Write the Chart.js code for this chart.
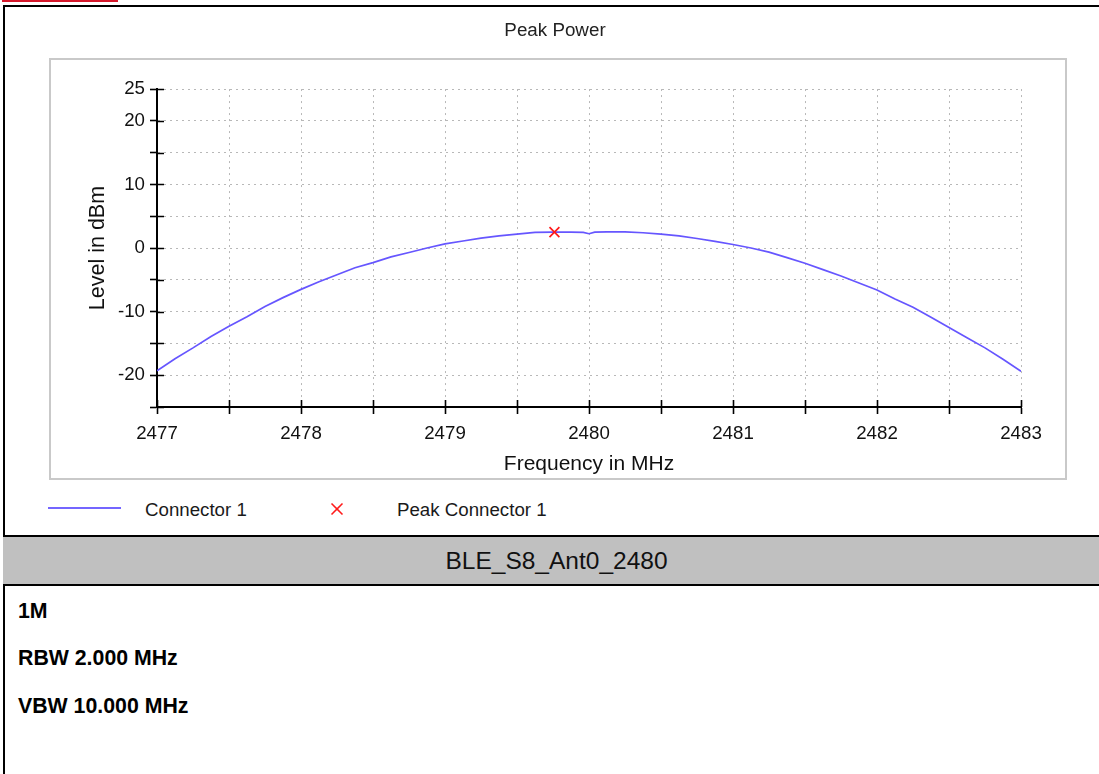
<!DOCTYPE html>
<html>
<head>
<meta charset="utf-8">
<script src="https://cdn.jsdelivr.net/npm/chart.js@4.4.1/dist/chart.umd.min.js"></script>
<style>
  html, body { margin: 0; padding: 0; background: #fff; }
  body { width: 1099px; height: 774px; position: relative; overflow: hidden; font-family: "Liberation Sans", Arial, sans-serif; }
  .abs { position: absolute; }
  #redbar { left: 2px; top: 0; width: 116px; height: 2px; background: #d6182b; }
  #frame { left: 3px; top: 5px; width: 1200px; height: 900px; border-left: 2px solid #000; border-top: 2px solid #000; }
  #panel { left: 49px; top: 58px; width: 1014px; height: 418px; border: 2px solid #c9c9c9; background: #fff; }
  #chartwrap { left: 0; top: 0; width: 1099px; height: 480px; }
  #band { left: 3px; top: 535px; width: 1200px; height: 47px; background: #c0c0c0; border-top: 2px solid #000; border-bottom: 2px solid #000; }
  #bandtext { left: 3px; width: 1107px; top: 549px; font-size: 24.5px; line-height: 24.5px; text-align: center; color: #111; }
  .info { left: 18px; font-size: 21.3px; line-height: 21.3px; font-weight: bold; color: #000; }
  .legtext { font-size: 18.7px; line-height: 18.7px; color: #1a1a1a; top: 501px; }
  #legline { left: 48px; top: 507px; width: 73px; height: 2px; background: #7466ff; }
</style>
</head>
<body>
<div id="redbar" class="abs"></div>
<div id="frame" class="abs"></div>
<div id="panel" class="abs"></div>
<div id="chartwrap" class="abs"><canvas id="c" width="1099" height="480"></canvas></div>

<div id="legline" class="abs"></div>
<div class="abs legtext" style="left:145px;">Connector 1</div>
<svg class="abs" style="left:330px;top:502px;" width="14" height="14" viewBox="0 0 14 14">
  <line x1="1.5" y1="1.5" x2="12.5" y2="12.5" stroke="#ff1a1a" stroke-width="1.6"/>
  <line x1="12.5" y1="1.5" x2="1.5" y2="12.5" stroke="#ff1a1a" stroke-width="1.6"/>
</svg>
<div class="abs legtext" style="left:397px;">Peak Connector 1</div>

<div id="band" class="abs"></div>
<div id="bandtext" class="abs">BLE_S8_Ant0_2480</div>

<div class="abs info" style="top:601px;">1M</div>
<div class="abs info" style="top:648px;">RBW 2.000 MHz</div>
<div class="abs info" style="top:696px;">VBW 10.000 MHz</div>

<script>
// ---- data ----
const freqMHz = [
  2477.000, 2477.125, 2477.250, 2477.375, 2477.500, 2477.625, 2477.750, 2477.875,
  2478.000, 2478.125, 2478.250, 2478.375, 2478.500, 2478.625, 2478.750, 2478.875,
  2479.000, 2479.125, 2479.250, 2479.375, 2479.500, 2479.625, 2479.750, 2479.875,
  2479.960, 2480.000, 2480.040, 2480.125, 2480.250, 2480.375, 2480.500, 2480.625,
  2480.750, 2480.875, 2481.000, 2481.125, 2481.250, 2481.375, 2481.500, 2481.625,
  2481.750, 2481.875, 2482.000, 2482.125, 2482.250, 2482.375, 2482.500, 2482.625,
  2482.750, 2482.875, 2483.000
];
const levelDbm = [
  -19.3, -17.4, -15.7, -13.9, -12.3, -10.8, -9.2, -7.8,
  -6.5, -5.3, -4.2, -3.1, -2.3, -1.4, -0.7, 0.0,
  0.65, 1.1, 1.55, 1.9, 2.2, 2.45, 2.5, 2.5,
  2.45, 2.25, 2.5, 2.55, 2.55, 2.4, 2.2, 1.9,
  1.5, 1.05, 0.55, 0.0, -0.65, -1.5, -2.4, -3.4,
  -4.4, -5.5, -6.6, -8.0, -9.3, -10.9, -12.5, -14.1,
  -15.7, -17.5, -19.4
];
const peakFreq = [2479.76];
const peakLevel = [2.5];
const xTickLabels = [2477, 2478, 2479, 2480, 2481, 2482, 2483];
const yTickLabels = [25, 20, 10, 0, -10, -20];

const chartTitle = 'Peak Power';
const xTitle = 'Frequency in MHz';
const yTitle = 'Level in dBm';
const seriesNames = ['Connector 1', 'Peak Connector 1'];

// ---- chart ----
const FONT = '"Liberation Sans", Arial, sans-serif';

const crossTicks = {
  id: 'crossTicks',
  afterDraw(chart) {
    const ctx = chart.ctx;
    const xs = chart.scales.x, ys = chart.scales.y;
    ctx.save();
    ctx.strokeStyle = '#000';
    ctx.lineWidth = 1.6;
    ctx.beginPath();
    xs.ticks.forEach(t => {
      const px = Math.round(xs.getPixelForValue(t.value)) + 0.5;
      ctx.moveTo(px, ys.bottom);
      ctx.lineTo(px, ys.bottom - 7);
    });
    ys.ticks.forEach(t => {
      const py = Math.round(ys.getPixelForValue(t.value)) + 0.5;
      ctx.moveTo(xs.left, py);
      ctx.lineTo(xs.left + 7, py);
    });
    ctx.stroke();
    ctx.restore();
  }
};

new Chart(document.getElementById('c'), {
  type: 'line',
  data: {
    datasets: [
      {
        label: seriesNames[0],
        data: freqMHz.map((f, i) => ({ x: f, y: levelDbm[i] })),
        borderColor: '#6656ff',
        borderWidth: 1.7,
        pointRadius: 0,
        tension: 0,
        fill: false,
        order: 2
      },
      {
        type: 'scatter',
        label: seriesNames[1],
        data: peakFreq.map((f, i) => ({ x: f, y: peakLevel[i] })),
        pointStyle: 'crossRot',
        pointRadius: 7,
        borderColor: '#ff1a1a',
        backgroundColor: '#ff1a1a',
        pointBorderWidth: 1.7,
        order: 1
      }
    ]
  },
  options: {
    responsive: false,
    animation: false,
    devicePixelRatio: 1,
    layout: { autoPadding: false, padding: { left: 89, right: 78, top: 0, bottom: 2.7 } },
    plugins: {
      legend: { display: false },
      tooltip: { enabled: false },
      title: {
        display: true,
        text: chartTitle,
        color: '#222',
        font: { family: FONT, size: 18.8, weight: 'normal', lineHeight: 1.2 },
        padding: { top: 20, bottom: 46.5 }
      }
    },
    scales: {
      x: {
        type: 'linear',
        min: 2477, max: 2483,
        afterFit(s) { s.height = 70.3; s.paddingLeft = 0; s.paddingRight = 0; },
        ticks: {
          stepSize: 0.5,
          autoSkip: false,
          maxRotation: 0,
          padding: 8.2,
          color: '#111',
          font: { family: FONT, size: 18.7 },
          callback: v => xTickLabels.includes(v) ? String(v) : ''
        },
        grid: {
          color: '#b8b8b8',
          lineWidth: 1,
          drawTicks: true,
          tickLength: 7,
          tickColor: '#000',
          tickWidth: 1.6,
          tickBorderDash: []
        },
        border: { display: true, color: '#000', width: 2, dash: [2, 4] },
        title: {
          display: true,
          text: xTitle,
          color: '#111',
          font: { family: FONT, size: 21, lineHeight: 1.2 },
          padding: { top: 0, bottom: 0 }
        }
      },
      y: {
        type: 'linear',
        min: -25, max: 25,
        afterFit(s) { s.width = 68; s.paddingTop = 0; s.paddingBottom = 0; },
        ticks: {
          stepSize: 5,
          autoSkip: false,
          padding: 5,
          color: '#111',
          font: { family: FONT, size: 18.7 },
          callback: v => yTickLabels.includes(v) ? String(v) : ''
        },
        grid: {
          color: '#b8b8b8',
          lineWidth: 1,
          drawTicks: true,
          tickLength: 7,
          tickColor: '#000',
          tickWidth: 1.6,
          tickBorderDash: []
        },
        border: { display: true, color: '#000', width: 2, dash: [2, 4] },
        title: {
          display: true,
          text: yTitle,
          color: '#111',
          font: { family: FONT, size: 21.5, lineHeight: 0.84 },
          padding: { top: 0, bottom: 0 }
        }
      }
    }
  },
  plugins: [crossTicks]
});
</script>
</body>
</html>
